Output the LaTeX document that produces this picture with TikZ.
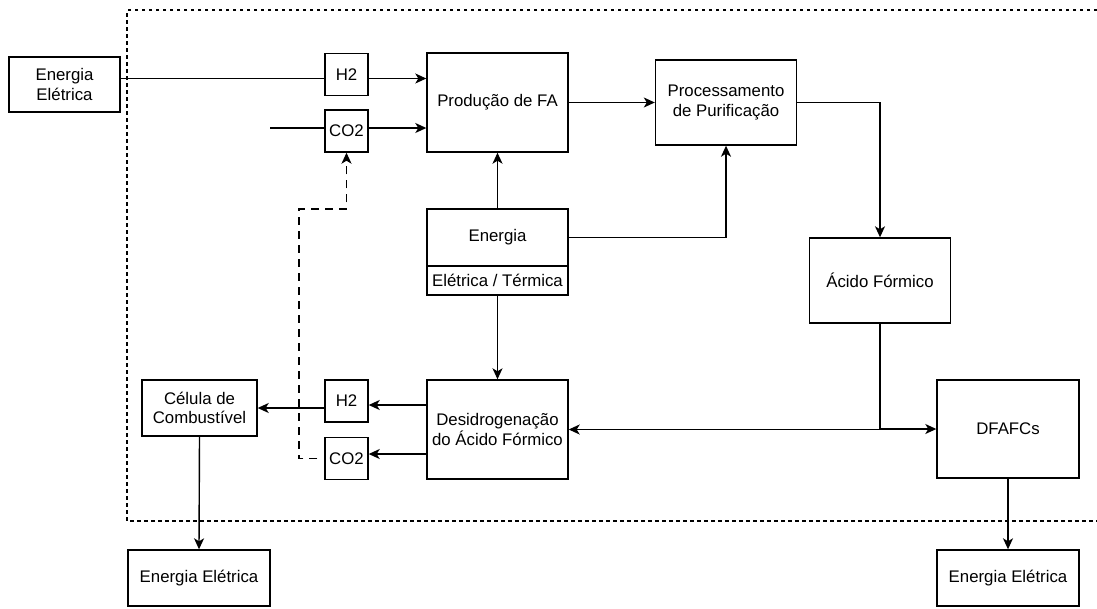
\documentclass[tikz,border=0pt]{standalone}
\usepackage{fontspec}
\setmainfont{Liberation Sans}
\usetikzlibrary{arrows.meta}
\begin{document}
\begin{tikzpicture}[x=1pt,y=-1pt,>={Stealth[length=11pt,width=10pt,inset=3pt]},line width=1.4pt,
	font=\fontsize{16.8}{19.5}\selectfont,
	blk/.style={draw,inner sep=0pt,align=center},
	bigbox/.style={blk,minimum width=141pt,minimum height=99pt},
	gasbox/.style={blk,minimum width=43pt,minimum height=42pt},
	frame/.style={dash pattern=on 3.5pt off 3.5pt},
	recycle/.style={dash pattern=on 8pt off 6pt}]
	\useasboundingbox (0,0) rectangle (1097,608);
	% moldura do sistema
	\draw[frame] (1097,10)--(127,10)--(127,521)--(1097,521);
	% blocos
	\node[blk,minimum width=111pt,minimum height=55pt] (eeIn) at (64.5,84.5) {Energia\\Elétrica};
	\node[gasbox] (h2a) at (346.5,74.5) {H2};
	\node[gasbox] (co2a) at (346.5,131) {CO2};
	\node[bigbox] (prod) at (497.5,102.5) {Produção de FA};
	\node[bigbox,minimum height=85pt] (proc) at (726,102.5) {Processamento\\de Purificação};
	\node[bigbox,minimum height=85pt] (acido) at (880,280.5) {Ácido Fórmico};
	\node[blk,minimum width=141pt,minimum height=57pt] (eng) at (497.5,237.5) {Energia};
	\node[blk,minimum width=141pt,minimum height=29pt] (engsub) at (497.5,280.5) {Elétrica / Térmica};
	\node[bigbox] (desid) at (497.5,429.5) {Desidrogenação\\do Ácido Fórmico};
	\node[gasbox] (h2b) at (346.5,401) {H2};
	\node[gasbox] (co2b) at (346.5,458.5) {CO2};
	\node[blk,minimum width=115pt,minimum height=56pt] (celula) at (199.5,408) {Célula de\\Combustível};
	\node[blk,minimum width=142pt,minimum height=56pt] (eeL) at (199,578) {Energia Elétrica};
	\node[bigbox,minimum width=142pt,minimum height=98pt] (dfafc) at (1008,429) {DFAFCs};
	\node[blk,minimum width=142pt,minimum height=56pt] (eeR) at (1008,578) {Energia Elétrica};
	\coordinate (co2src) at (270,128);
	\coordinate (bend) at (299,209);
	% ligacoes
	\draw ([yshift=-4pt]h2a.west -| eeIn.east)--([yshift=-4pt]h2a.west);
	\draw[->] ([yshift=-4pt]h2a.east)--([yshift=-4pt]h2a.east -| prod.west);
	\draw (co2src)--(co2src -| co2a.west);
	\draw[->] (co2src -| co2a.east)--(co2src -| prod.west);
	\draw[->] (prod.east)--(proc.west);
	\draw[->] (proc.east) -| (acido.north);
	\draw[->] (eng.north)--(prod.south);
	\draw[->] (eng.east) -| (proc.south);
	\draw[->] (engsub.south)--(desid.north);
	\draw[->] ([yshift=24.5pt]desid.west)--([yshift=24.5pt]desid.west -| h2b.east);
	\draw[->] ([yshift=-24.5pt]desid.west)--([yshift=-24.5pt]desid.west -| co2b.east);
	\draw[->] (h2b.west |- celula.east)--(celula.east);
	\draw[->] (celula.south)--(eeL.north);
	\draw[->] (acido.south) |- (desid.east);
	\draw[->] (acido.south) |- (dfafc.west);
	\draw[->] (dfafc.south)--(eeR.north);
	\draw[recycle,->] ([xshift=-7pt]co2b.west) -| (bend) -| (co2a.south);
\end{tikzpicture}
\end{document}
